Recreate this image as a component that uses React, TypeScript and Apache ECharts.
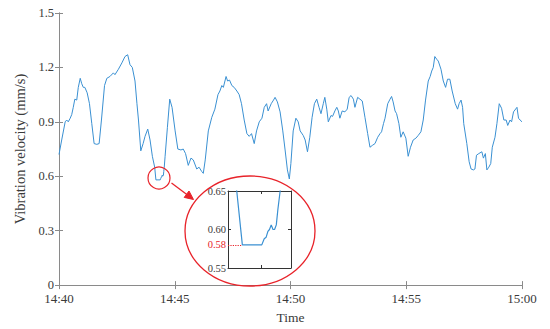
import React, { useEffect, useRef } from "react";
import * as echarts from "echarts";

// Time in seconds after 14:40
const timeSec: number[] = [
  0, 7, 16, 20, 24, 29, 33, 37, 41, 46, 50, 55, 59, 63, 67, 73, 79, 85, 91, 98,
  104, 110, 118, 124, 132, 141, 145, 154, 163, 171, 178, 184, 190, 197, 202, 206, 212, 218, 223, 230,
  236, 242, 248, 251.2, 262.3, 263.7, 264.8, 265.8, 266.7, 267.7, 268.7, 269.6, 270.6, 271.5, 272.8, 275, 281, 287, 293, 301,
  308, 316, 322, 328, 335, 342, 348, 357, 363, 370, 374, 379, 387, 396, 404, 412, 417, 422, 426, 433,
  437, 442, 448, 454, 461, 467, 473, 480, 487, 493, 499, 506, 512, 519, 526, 532, 538, 542, 550, 556,
  560, 566, 573, 580, 586, 592, 597, 601, 607, 614, 620, 625, 633, 638, 644, 650, 656, 662, 668, 674,
  679, 685, 689, 694, 698, 705, 709, 715, 720, 724, 728, 734, 741, 747, 752, 757, 763, 767, 774, 780,
  786, 793, 800, 806, 812, 819, 826, 832, 836, 841, 845, 852, 858, 862, 866, 871, 875, 881, 886, 892,
  899, 905, 911, 918, 925, 931, 938, 944, 950, 957, 962, 966, 970, 974, 979, 983, 990, 996, 1002, 1007,
  1013, 1019, 1027, 1033, 1037, 1042, 1046, 1049, 1057, 1063, 1068, 1074, 1078, 1082, 1088, 1096, 1100, 1105, 1109, 1114,
  1119, 1123, 1130, 1135, 1141, 1147, 1153, 1159, 1163, 1169, 1173, 1178, 1187, 1191, 1195, 1200,
];

// Vibration velocity (mm/s)
const velocity: number[] = [
  0.72, 0.8, 0.9, 0.91, 0.9, 0.92, 0.94, 0.98, 1.025, 1.02, 1.09, 1.14, 1.11, 1.09, 1.09, 1.06, 1.0, 0.89, 0.78, 0.776,
  0.78, 0.91, 1.1, 1.14, 1.15, 1.17, 1.16, 1.19, 1.225, 1.26, 1.27, 1.215, 1.2, 1.125, 1.0, 0.91, 0.74, 0.78, 0.82, 0.86,
  0.8, 0.71, 0.65, 0.58, 0.58, 0.588, 0.59, 0.5975, 0.6, 0.606, 0.6, 0.6, 0.606, 0.626, 0.65, 0.71, 0.87, 1.025, 0.98, 0.85,
  0.75, 0.745, 0.75, 0.725, 0.66, 0.7, 0.69, 0.64, 0.65, 0.626, 0.616, 0.69, 0.85, 0.925, 0.97, 1.05, 1.07, 1.1, 1.09, 1.15,
  1.125, 1.13, 1.1, 1.09, 1.07, 1.05, 1.0, 0.91, 0.835, 0.82, 0.835, 0.78, 0.85, 0.9, 0.92, 0.98, 1.0, 0.96, 1.0, 1.02,
  1.035, 1.01, 0.955, 0.85, 0.745, 0.635, 0.585, 0.67, 0.85, 0.92, 0.9, 0.85, 0.825, 0.8, 0.735, 0.815, 0.925, 1.0, 1.025, 0.98,
  0.945, 1.0, 1.035, 0.97, 0.9, 0.935, 0.93, 0.96, 0.98, 0.96, 0.92, 0.96, 0.955, 0.97, 1.035, 1.045, 1.025, 0.98, 1.035, 1.025,
  1.015, 0.925, 0.835, 0.76, 0.77, 0.78, 0.815, 0.835, 0.845, 0.89, 0.92, 1.0, 1.025, 1.04, 1.01, 0.96, 0.945, 0.89, 0.815, 0.845,
  0.81, 0.71, 0.76, 0.8, 0.81, 0.825, 0.845, 0.91, 1.02, 1.125, 1.15, 1.18, 1.2, 1.26, 1.245, 1.235, 1.19, 1.125, 1.09, 1.135,
  1.135, 1.07, 1.0, 0.97, 1.0, 1.02, 0.98, 0.89, 0.78, 0.68, 0.64, 0.635, 0.64, 0.716, 0.725, 0.735, 0.7, 0.725, 0.635, 0.65,
  0.67, 0.76, 0.815, 0.89, 1.0, 0.975, 0.91, 0.91, 0.88, 0.91, 0.9, 0.955, 0.98, 0.92, 0.91, 0.9,
];

const xTickLabels: string[] = ["14:40", "14:45", "14:50", "14:55", "15:00"];
const yTicks: number[] = [0, 0.3, 0.6, 0.9, 1.2, 1.5];
const insetYLabels: number[] = [0.55, 0.58, 0.6, 0.65];
const insetMinValue = 0.58;
const insetXRange: number[] = [243, 279];
const insetMinStart = 251.2;

const SERIF = "'Liberation Serif', 'DejaVu Serif', serif";
const TXT = "#3a3a3a";
const AX = "#8a8a8a";
const RED = "#e8232a";
const BLUE = "#3a90d2";

export default function App() {
  const ref = useRef<HTMLDivElement>(null);
  useEffect(() => {
    if (!ref.current) return;
    const chart = echarts.init(ref.current, undefined, { renderer: "svg" });
    const data = timeSec.map((t, i) => [t, velocity[i]]);
    const tickStyle = { show: true, inside: true, length: 4, lineStyle: { color: AX } };
    const lineStyle = { lineStyle: { color: AX, width: 1 } };
    const mainX = { min: 0, max: 1200, interval: 300, type: "value" as const, splitLine: { show: false } };
    const mainY = { min: 0, max: 1.5, interval: 0.3, type: "value" as const, splitLine: { show: false } };
    const inX = { type: "value" as const, gridIndex: 1, min: insetXRange[0], max: insetXRange[1], splitLine: { show: false } };
    const inY = { type: "value" as const, gridIndex: 1, min: 0.55, max: 0.65, splitLine: { show: false } };
    const inTick = { show: true, inside: true, length: 3, lineStyle: { color: "#333" } };
    const inLine = { lineStyle: { color: "#333", width: 1 } };

    chart.setOption({
      animation: false,
      backgroundColor: "#fff",
      grid: [
        { left: 59, right: 28, top: 13, bottom: 41 },
        { left: 228, top: 191, width: 63, height: 77, show: true, backgroundColor: "#fff", borderWidth: 0 },
      ],
      xAxis: [
        {
          ...mainX,
          gridIndex: 0,
          position: "bottom",
          axisLine: lineStyle,
          axisTick: tickStyle,
          axisLabel: {
            color: TXT,
            fontFamily: SERIF,
            fontSize: 13,
            margin: 7,
            formatter: (v: number) => xTickLabels[Math.round(v / 300)] ?? "",
          },
          name: "Time",
          nameLocation: "middle",
          nameGap: 20,
          nameTextStyle: { color: TXT, fontFamily: SERIF, fontSize: 13.5 },
        },
        { ...mainX, gridIndex: 0, position: "top", axisLine: lineStyle, axisTick: tickStyle, axisLabel: { show: false } },
        { ...inX, position: "bottom", axisLine: inLine, axisTick: { ...inTick, customValues: [262] }, axisLabel: { show: false } },
        { ...inX, position: "top", axisLine: inLine, axisTick: { ...inTick, customValues: [262] }, axisLabel: { show: false } },
      ],
      yAxis: [
        {
          ...mainY,
          gridIndex: 0,
          position: "left",
          axisLine: lineStyle,
          axisTick: tickStyle,
          axisLabel: {
            color: TXT,
            fontFamily: SERIF,
            fontSize: 12.5,
            margin: 5,
            formatter: (v: number) => {
              const t = yTicks.find((y) => Math.abs(y - v) < 1e-6);
              return t === undefined ? "" : t === 0 ? "0" : t.toFixed(1);
            },
          },
          name: "Vibration velocity (mm/s)",
          nameLocation: "middle",
          nameGap: 28,
          nameTextStyle: { color: TXT, fontFamily: SERIF, fontSize: 14.5 },
        },
        { ...mainY, gridIndex: 0, position: "right", axisLine: lineStyle, axisTick: tickStyle, axisLabel: { show: false } },
        {
          ...inY,
          position: "left",
          axisLine: inLine,
          axisTick: { ...inTick, customValues: [0.6] },
          axisLabel: {
            customValues: insetYLabels,
            color: TXT,
            fontFamily: SERIF,
            fontSize: 10.5,
            margin: 2,
            formatter: (v: number) =>
              Math.abs(v - insetMinValue) < 1e-6 ? "{r|" + v.toFixed(2) + "}" : v.toFixed(2),
            rich: { r: { color: RED, fontFamily: SERIF, fontSize: 10.5 } },
          },
        },
        { ...inY, position: "right", axisLine: inLine, axisTick: { ...inTick, customValues: [0.6] }, axisLabel: { show: false } },
      ],
      series: [
        {
          type: "line",
          xAxisIndex: 0,
          yAxisIndex: 0,
          data,
          showSymbol: false,
          lineStyle: { color: BLUE, width: 1 },
          silent: true,
        },
        {
          type: "line",
          xAxisIndex: 2,
          yAxisIndex: 2,
          data,
          showSymbol: false,
          clip: true,
          lineStyle: { color: BLUE, width: 1.2 },
          silent: true,
          markLine: {
            silent: true,
            symbol: "none",
            label: { show: false },
            lineStyle: { color: RED, type: "dotted", width: 1.2 },
            data: [[{ coord: [insetXRange[0], insetMinValue] }, { coord: [insetMinStart, insetMinValue] }]],
          },
        },
      ],
      graphic: [
        { type: "circle", shape: { cx: 159, cy: 178, r: 11 }, style: { fill: "none", stroke: RED, lineWidth: 1.2 }, z: 100 },
        { type: "ellipse", shape: { cx: 250, cy: 231, rx: 65, ry: 55 }, style: { fill: "none", stroke: RED, lineWidth: 1.3 }, z: 100 },
        { type: "line", shape: { x1: 171.5, y1: 183, x2: 187.5, y2: 195 }, style: { stroke: RED, lineWidth: 1.3 }, z: 100 },
        {
          type: "polygon",
          shape: { points: [[193.5, 199.5], [184.2, 197.4], [189.0, 191.0]] },
          style: { fill: RED, stroke: RED },
          z: 100,
        },
      ],
    });
    return () => chart.dispose();
  }, []);
  return <div ref={ref} style={{ position: "fixed", left: 0, top: 0, width: 550, height: 329 }} />;
}
